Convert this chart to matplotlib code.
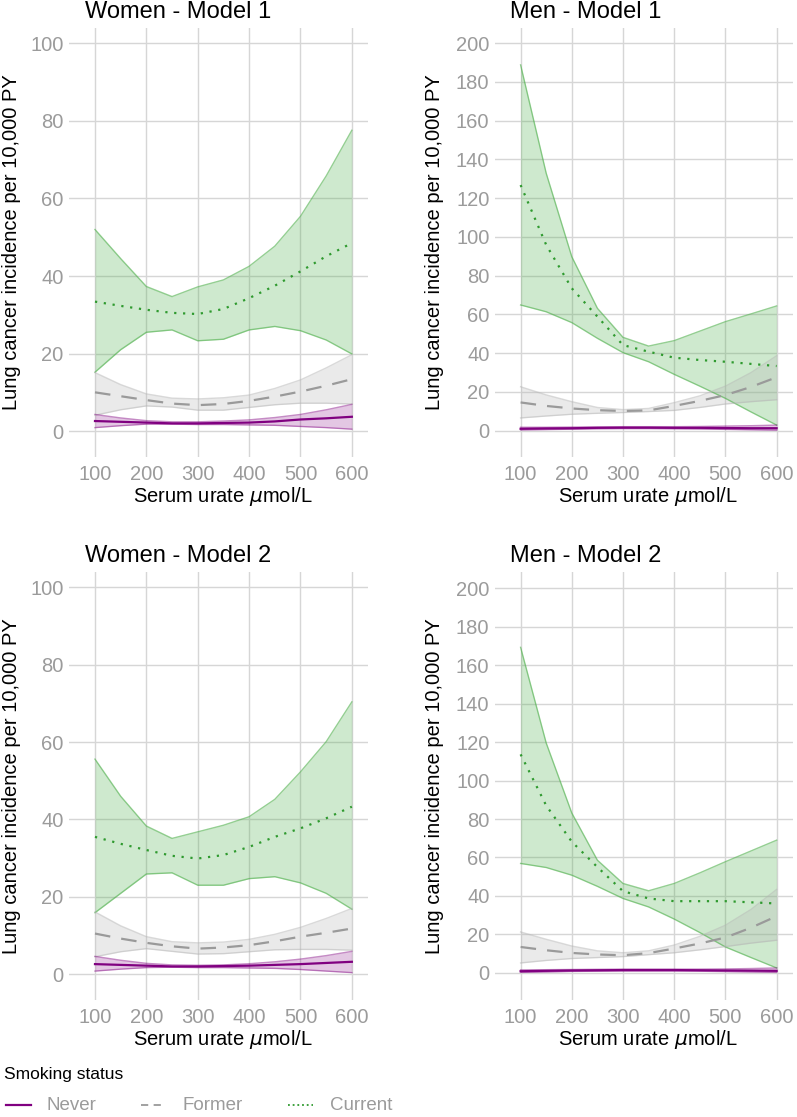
import matplotlib
matplotlib.use("Agg")
import matplotlib.pyplot as plt
from matplotlib.lines import Line2D

plt.rcParams['font.family'] = ['Liberation Sans', 'DejaVu Sans']
plt.rcParams['mathtext.fontset'] = 'dejavusans'

# ---------------- data ----------------
urate = [100, 150, 200, 250, 300, 350, 400, 450, 500, 550, 600]

# Women - Model 1
w1_cur_est = [33.4, 32.3, 31.3, 30.5, 30.2, 31.5, 34.3, 37.5, 41.2, 45.1, 48.5]
w1_cur_lo = [15.2, 21.0, 25.5, 26.1, 23.3, 23.7, 26.1, 27.0, 25.9, 23.5, 19.9]
w1_cur_hi = [52.0, 44.5, 37.3, 34.7, 37.2, 39.0, 42.5, 47.7, 55.4, 65.8, 77.6]
w1_for_est = [10.0, 9.0, 8.0, 7.1, 6.7, 7.0, 7.8, 8.9, 10.2, 11.7, 13.4]
w1_for_lo = [4.1, 5.5, 6.5, 6.2, 5.4, 5.4, 6.1, 6.8, 7.2, 7.2, 7.0]
w1_for_hi = [15.1, 12.0, 9.6, 8.5, 8.3, 8.6, 9.3, 11.0, 13.2, 16.3, 19.7]
w1_nev_est = [2.6, 2.4, 2.2, 2.0, 2.0, 2.1, 2.2, 2.5, 3.0, 3.3, 3.7]
w1_nev_lo = [0.9, 1.4, 1.8, 1.8, 1.7, 1.7, 1.6, 1.5, 1.2, 0.9, 0.5]
w1_nev_hi = [4.3, 3.4, 2.7, 2.4, 2.4, 2.6, 2.9, 3.5, 4.3, 5.5, 6.9]

# Men - Model 1
m1_cur_est = [126.8, 95.9, 73.5, 58.9, 44.2, 40.8, 37.7, 36.5, 35.6, 34.5, 33.4]
m1_cur_lo = [64.9, 61.4, 55.8, 47.7, 40.3, 35.6, 29.1, 23.0, 16.7, 9.7, 2.9]
m1_cur_hi = [188.8, 132.9, 89.8, 63.2, 48.2, 43.7, 46.5, 51.4, 56.3, 60.3, 64.4]
m1_for_est = [14.6, 12.8, 11.5, 10.6, 10.2, 10.5, 12.8, 15.4, 18.4, 22.6, 27.6]
m1_for_lo = [6.6, 7.6, 8.5, 9.0, 9.4, 9.9, 10.5, 12.0, 13.8, 15.0, 16.0]
m1_for_hi = [22.7, 18.5, 15.0, 12.0, 10.9, 11.5, 14.5, 18.0, 23.0, 30.0, 38.7]
m1_nev_est = [1.0, 1.2, 1.3, 1.5, 1.6, 1.6, 1.5, 1.5, 1.4, 1.3, 1.3]
m1_nev_lo = [0.4, 0.6, 0.8, 1.0, 1.1, 1.1, 1.0, 0.9, 0.7, 0.5, 0.3]
m1_nev_hi = [1.8, 1.8, 1.9, 2.0, 2.1, 2.1, 2.1, 2.2, 2.4, 2.6, 2.9]

# Women - Model 2
w2_cur_est = [35.5, 33.7, 32.1, 30.6, 29.9, 30.8, 32.9, 35.5, 37.7, 40.3, 43.3]
w2_cur_lo = [15.9, 20.9, 25.9, 26.2, 23.0, 23.0, 24.7, 25.2, 23.6, 20.9, 16.8]
w2_cur_hi = [55.6, 46.0, 38.3, 35.1, 36.8, 38.5, 40.7, 45.2, 52.3, 60.1, 70.4]
w2_for_est = [10.5, 9.2, 8.1, 7.2, 6.6, 6.9, 7.5, 8.5, 9.7, 10.7, 11.8]
w2_for_lo = [4.5, 5.8, 6.6, 5.9, 5.2, 5.3, 5.8, 6.3, 6.4, 6.4, 6.2]
w2_for_hi = [16.1, 12.5, 9.7, 8.4, 8.1, 8.3, 9.0, 10.3, 12.1, 14.4, 17.0]
w2_nev_est = [2.6, 2.4, 2.2, 2.0, 2.0, 2.1, 2.2, 2.4, 2.6, 2.9, 3.2]
w2_nev_lo = [0.8, 1.3, 1.7, 1.8, 1.7, 1.7, 1.6, 1.5, 1.2, 0.8, 0.4]
w2_nev_hi = [4.6, 3.6, 2.8, 2.4, 2.3, 2.4, 2.7, 3.2, 3.9, 4.8, 5.9]

# Men - Model 2
m2_cur_est = [113.6, 87.0, 68.2, 55.0, 42.5, 38.7, 37.3, 37.3, 37.3, 36.7, 36.1]
m2_cur_lo = [56.9, 54.8, 50.8, 45.0, 38.7, 34.3, 28.0, 21.0, 13.5, 8.0, 2.6]
m2_cur_hi = [169.2, 119.5, 83.1, 58.6, 46.5, 42.7, 46.5, 52.0, 57.8, 63.4, 69.0]
m2_for_est = [13.5, 11.8, 10.4, 9.6, 9.2, 10.3, 12.7, 15.3, 18.4, 23.5, 29.5]
m2_for_lo = [5.2, 6.5, 7.5, 8.0, 8.5, 9.5, 10.5, 12.0, 13.7, 15.5, 17.0]
m2_for_hi = [21.3, 17.5, 14.0, 11.5, 10.5, 11.5, 14.5, 19.0, 24.8, 33.0, 43.4]
m2_nev_est = [0.9, 1.1, 1.3, 1.4, 1.5, 1.5, 1.5, 1.4, 1.3, 1.2, 1.1]
m2_nev_lo = [0.3, 0.5, 0.8, 0.9, 1.0, 1.0, 1.0, 0.9, 0.7, 0.5, 0.3]
m2_nev_hi = [1.6, 1.7, 1.8, 1.9, 2.0, 2.0, 2.0, 2.0, 2.1, 2.3, 2.6]

panel_titles = ["Women - Model 1", "Men - Model 1", "Women - Model 2", "Men - Model 2"]
status_labels = ["Never", "Former", "Current"]
x_ticks = [100, 200, 300, 400, 500, 600]
women_y_ticks = [0, 20, 40, 60, 80, 100]
men_y_ticks = [0, 20, 40, 60, 80, 100, 120, 140, 160, 180, 200]

# ---------------- styling ----------------
W, H = 797, 1117
fig = plt.figure(figsize=(W / 100, H / 100), dpi=100)

col_never = '#800080'
col_former = '#9a9a9a'
col_current = '#2f9a2f'
fill_never = '#800080'
fill_former = '#b5b5b5'
fill_current = '#4daf4a'
tick_col = '#9b9b9b'
grid_col = '#d6d6d6'


def px_axes(l, t, r, b):
    return fig.add_axes([l / W, 1 - b / H, (r - l) / W, (b - t) / H])


panels = [
    (px_axes(69.3, 28.3, 368.3, 456.7), panel_titles[0], women_y_ticks, (-6.6, 103.9),
     (w1_nev_est, w1_nev_lo, w1_nev_hi), (w1_for_est, w1_for_lo, w1_for_hi), (w1_cur_est, w1_cur_lo, w1_cur_hi)),
    (px_axes(495, 28.3, 793, 456.7), panel_titles[1], men_y_ticks, (-13.4, 207.7),
     (m1_nev_est, m1_nev_lo, m1_nev_hi), (m1_for_est, m1_for_lo, m1_for_hi), (m1_cur_est, m1_cur_lo, m1_cur_hi)),
    (px_axes(69.3, 572.3, 368.3, 999.7), panel_titles[2], women_y_ticks, (-6.6, 103.9),
     (w2_nev_est, w2_nev_lo, w2_nev_hi), (w2_for_est, w2_for_lo, w2_for_hi), (w2_cur_est, w2_cur_lo, w2_cur_hi)),
    (px_axes(495, 572.3, 793, 999.7), panel_titles[3], men_y_ticks, (-13.9, 208.2),
     (m2_nev_est, m2_nev_lo, m2_nev_hi), (m2_for_est, m2_for_lo, m2_for_hi), (m2_cur_est, m2_cur_lo, m2_cur_hi)),
]

for ax, title, yt, ylim, nev, form, cur in panels:
    ax.set_xlim(50, 632)
    ax.set_ylim(*ylim)
    ax.set_xticks(x_ticks)
    ax.set_yticks(yt)
    ax.grid(True, color=grid_col, linewidth=1.0)
    ax.set_axisbelow(True)
    for s in ax.spines.values():
        s.set_visible(False)
    ax.tick_params(length=0, labelsize=14.5, labelcolor=tick_col)
    ax.tick_params(axis='x', pad=6)
    ax.tick_params(axis='y', pad=4)

    # Current
    ax.fill_between(urate, cur[1], cur[2], color=fill_current, alpha=0.27, linewidth=0, zorder=2)
    ax.plot(urate, cur[1], color=fill_current, alpha=0.6, lw=1.0, zorder=3)
    ax.plot(urate, cur[2], color=fill_current, alpha=0.6, lw=1.0, zorder=3)
    # Former
    ax.fill_between(urate, form[1], form[2], color=fill_former, alpha=0.27, linewidth=0, zorder=2)
    ax.plot(urate, form[1], color=fill_former, alpha=0.5, lw=1.0, zorder=3)
    ax.plot(urate, form[2], color=fill_former, alpha=0.5, lw=1.0, zorder=3)
    # Never
    ax.fill_between(urate, nev[1], nev[2], color=fill_never, alpha=0.22, linewidth=0, zorder=2)
    ax.plot(urate, nev[1], color=fill_never, alpha=0.45, lw=1.0, zorder=3)
    ax.plot(urate, nev[2], color=fill_never, alpha=0.45, lw=1.0, zorder=3)

    ax.plot(urate, cur[0], color=col_current, lw=1.6, linestyle=(0, (1, 3)), zorder=4)
    ax.plot(urate, form[0], color=col_former, lw=1.6, linestyle=(0, (7, 5)), zorder=4)
    ax.plot(urate, nev[0], color=col_never, lw=1.6, zorder=5)

    bb = ax.get_position()
    lpx = bb.x0 * W
    tpx = (1 - bb.y1) * H
    bpx = (1 - bb.y0) * H
    fig.text((lpx + 15.5) / W, 1 - (tpx - 10) / H, title, fontsize=17, ha='left', va='baseline')
    fig.text((lpx + (bb.x1 - bb.x0) * W / 2 + 4) / W, 1 - (bpx + 39.5) / H,
             r"Serum urate $\mu$mol/L", fontsize=14.5, ha='center', va='center')
    ylab_x = 12 if lpx < 200 else 435
    fig.text(ylab_x / W, 1 - ((tpx + bpx) / 2) / H, "Lung cancer incidence per 10,000 PY",
             fontsize=14.5, rotation=90, ha='center', va='center')

# ---------------- legend ----------------
leg_font = ['Liberation Sans Narrow', 'Liberation Sans', 'DejaVu Sans']
fig.text(4 / W, 1 - 1075 / H, "Smoking status", fontsize=12.5, ha='left', va='center', family=leg_font)
key_y = 1 - 1105 / H
handles = [
    (6, col_never, '-', 47),
    (141, col_former, (0, (4, 3)), 183),
    (288, col_current, (0, (1, 1.6)), 330),
]
for (kx, kc, ks, tx), lab in zip(handles, status_labels):
    fig.add_artist(Line2D([kx / W, (kx + 25) / W], [key_y, key_y], transform=fig.transFigure,
                          color=kc, linestyle=ks, lw=1.6 if ks == '-' else 1.3))
    fig.text(tx / W, key_y, lab, fontsize=13.5, color=tick_col, ha='left', va='center', family=leg_font)

fig.savefig("out.png", dpi=100)
